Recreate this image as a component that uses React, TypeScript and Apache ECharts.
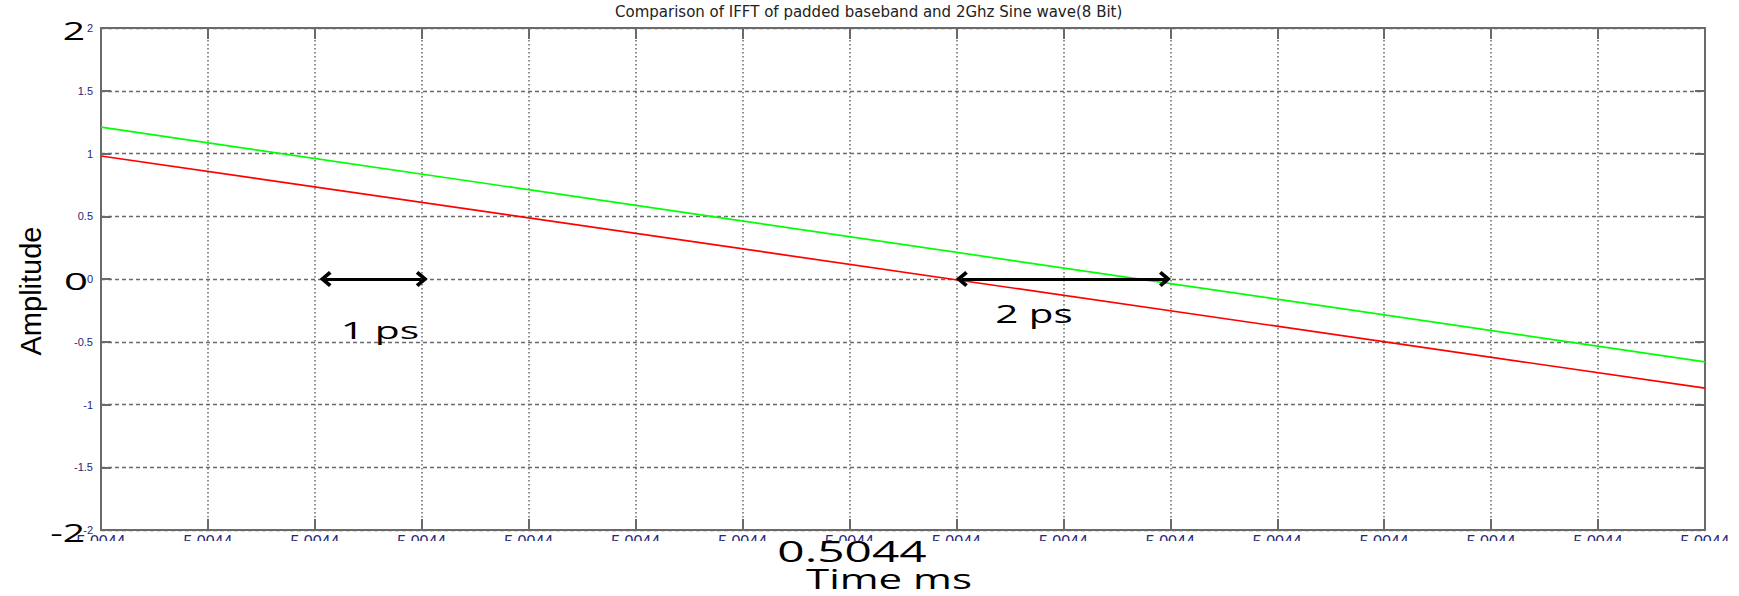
import React, { useEffect, useRef } from "react";
import * as echarts from "echarts";

// ---- data ----
const xTickLabels = [
  "5.0044", "5.0044", "5.0044", "5.0044", "5.0044", "5.0044", "5.0044", "5.0044",
  "5.0044", "5.0044", "5.0044", "5.0044", "5.0044", "5.0044", "5.0044", "5.0044",
];
const greenWave = [
  [0, 1.21],
  [15, -0.66],
];
const redWave = [
  [0, 0.98],
  [15, -0.87],
];
const arrowSpans = [
  [2.1, 3.0],
  [8.05, 9.95],
];
const titleText = "Comparison of IFFT of padded baseband and 2Ghz Sine wave(8 Bit)";
const yAxisTitle = "Amplitude";
const xAxisTitle = "Time ms";
const xOffsetText = "0.5044";

const AXIS_COLOR = "#6a6a6a";
const TICK_COLOR = "#26267a";
const CHEVRON = "path://M10,0 L20,11 L16.5,14 L10,6.5 L3.5,14 L0,11 Z";

export default function App() {
  const ref = useRef<HTMLDivElement | null>(null);

  useEffect(() => {
    if (!ref.current) return;
    const chart = echarts.init(ref.current, undefined, { renderer: "svg" });

    const overlayText = (
      text: string,
      x: number,
      y: number,
      size: number,
      scaleX: number,
      align: string
    ) => ({
      type: "text",
      x,
      y,
      scaleX,
      z: 110,
      silent: true,
      style: {
        text,
        fontFamily: "Open Sans",
        fontSize: size,
        lineHeight: size,
        fill: "#000",
        align,
        verticalAlign: "middle",
        textAlign: align,
        textVerticalAlign: "middle",
      },
    });

    const baseX = {
      type: "value",
      min: 0,
      max: 15,
      interval: 1,
    };
    const baseY = {
      type: "value",
      min: -2,
      max: 2,
      interval: 0.5,
    };

    chart.setOption({
      animation: false,
      backgroundColor: "#ffffff",
      title: {
        text: titleText,
        left: 615,
        top: 4,
        padding: 0,
        textStyle: {
          fontFamily: "DejaVu Sans",
          fontSize: 15,
          fontWeight: "normal",
          color: "#222",
        },
      },
      grid: { left: 101, top: 28, right: 34, bottom: 66, containLabel: false },
      xAxis: [
        {
          ...baseX,
          position: "bottom",
          axisLine: { show: true, onZero: false, lineStyle: { color: AXIS_COLOR, width: 2 } },
          axisTick: { show: true, inside: true, length: 11, lineStyle: { color: AXIS_COLOR, width: 2 } },
          axisLabel: {
            show: true,
            margin: 3,
            fontSize: 16,
            fontFamily: "Liberation Sans",
            color: TICK_COLOR,
            formatter: (v: number) => xTickLabels[Math.round(v)] ?? "",
          },
          splitLine: { show: true, lineStyle: { type: [1.5, 2.5], color: AXIS_COLOR, width: 1.5 } },
        },
        {
          ...baseX,
          position: "top",
          axisLine: { show: true, onZero: false, lineStyle: { color: AXIS_COLOR, width: 2 } },
          axisTick: { show: true, inside: true, length: 11, lineStyle: { color: AXIS_COLOR, width: 2 } },
          axisLabel: { show: false },
          splitLine: { show: false },
        },
      ],
      yAxis: [
        {
          ...baseY,
          position: "left",
          name: yAxisTitle,
          nameLocation: "middle",
          nameRotate: 90,
          nameGap: 56,
          nameTextStyle: {
            fontFamily: "Liberation Sans",
            fontSize: 29,
            color: "#000",
            padding: [0, 24, 0, 0],
          },
          axisLine: { show: true, onZero: false, lineStyle: { color: AXIS_COLOR, width: 2 } },
          axisTick: { show: true, inside: true, length: 10, lineStyle: { color: AXIS_COLOR, width: 2 } },
          axisLabel: {
            show: true,
            margin: 8,
            fontSize: 11,
            fontFamily: "Liberation Sans",
            color: TICK_COLOR,
          },
          splitLine: { show: true, lineStyle: { type: [4, 3], color: AXIS_COLOR, width: 1.3 } },
        },
        {
          ...baseY,
          position: "right",
          axisLine: { show: true, onZero: false, lineStyle: { color: AXIS_COLOR, width: 2 } },
          axisTick: { show: true, inside: true, length: 10, lineStyle: { color: AXIS_COLOR, width: 2 } },
          axisLabel: { show: false },
          splitLine: { show: false },
        },
      ],
      series: [
        {
          type: "line",
          name: "2Ghz Sine wave",
          xAxisIndex: 0,
          yAxisIndex: 0,
          data: greenWave,
          symbol: "none",
          silent: true,
          z: 3,
          lineStyle: { color: "#00ff00", width: 1.7 },
          itemStyle: { color: "#00ff00" },
          markLine: {
            silent: true,
            symbol: [CHEVRON, CHEVRON],
            symbolSize: [16, 12],
            lineStyle: { color: "#000", width: 3, type: "solid" },
            label: { show: false },
            emphasis: { disabled: true },
            z: 5,
            data: arrowSpans.map(([a, b]) => [{ coord: [a, 0] }, { coord: [b, 0] }]),
          },
        },
        {
          type: "line",
          name: "IFFT of padded baseband",
          xAxisIndex: 0,
          yAxisIndex: 0,
          data: redWave,
          symbol: "none",
          silent: true,
          z: 2,
          lineStyle: { color: "#ff0000", width: 1.7 },
          itemStyle: { color: "#ff0000" },
        },
      ],
      graphic: [
        {
          type: "rect",
          z: 100,
          silent: true,
          shape: { x: 40, y: 541, width: 1699, height: 12 },
          style: { fill: "#ffffff" },
        },
        overlayText("2", 85, 30.5, 26, 1.5, "right"),
        overlayText("0", 88, 280.5, 24, 1.75, "right"),
        overlayText("-2", 85, 532.5, 26, 1.5, "right"),
        overlayText("1 ps", 380, 330, 24, 1.7, "center"),
        overlayText("2 ps", 1034, 313, 26, 1.55, "center"),
        overlayText(xOffsetText, 852, 551, 29, 1.65, "center"),
        overlayText(xAxisTitle, 889, 578, 28, 1.5, "center"),
      ],
    });

    return () => {
      chart.dispose();
    };
  }, []);

  return (
    <div
      ref={ref}
      style={{
        position: "absolute",
        left: 0,
        top: 0,
        width: 1739,
        height: 596,
        background: "#ffffff",
      }}
    />
  );
}
